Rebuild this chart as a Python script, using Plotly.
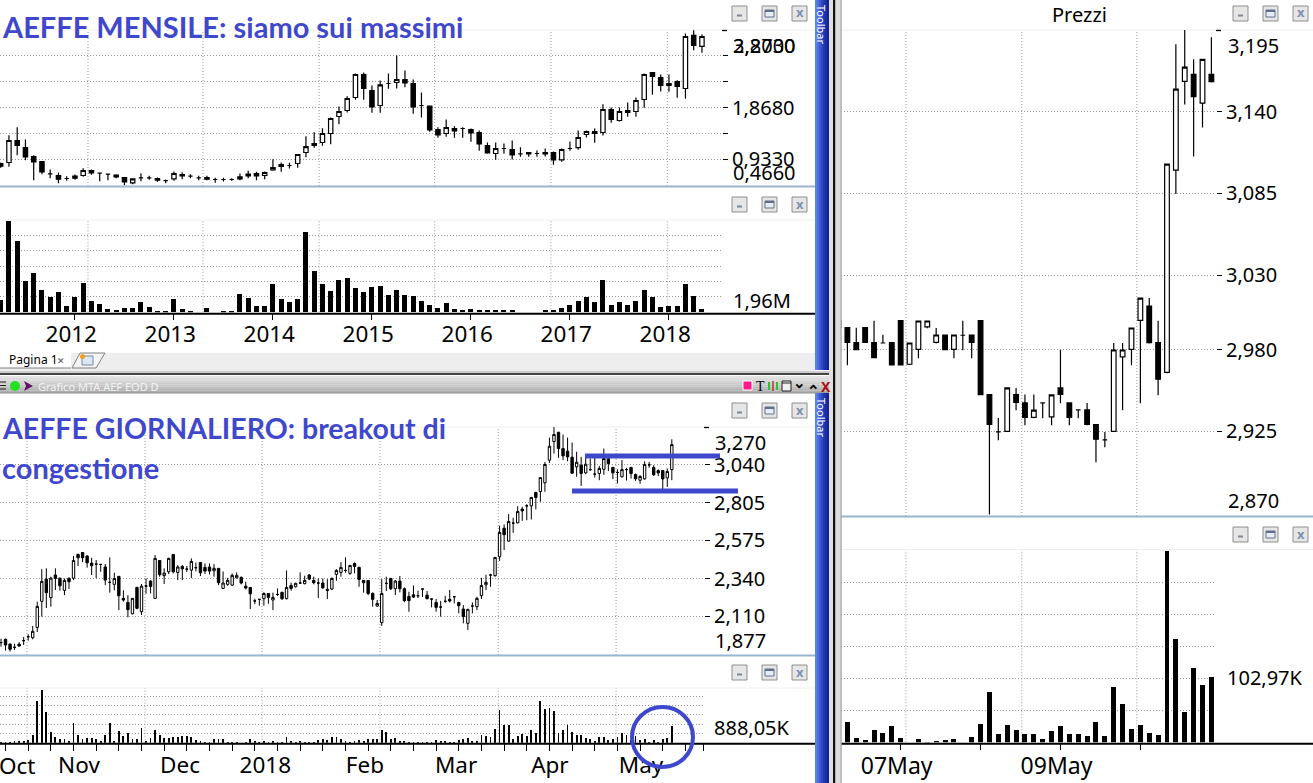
import plotly.graph_objects as go

# ---------- DATA ----------
# Monthly candles: open, high, low, close
monthly_ohlc = [
(.855,.873,.777,.807),(.873,1.368,.795,1.271),(1.271,1.512,1.006,1.181),(1.144,1.289,.915,.976),(.982,1.006,.553,.885),
(.891,.891,.662,.704),(.668,.746,.590,.668),(.638,.692,.499,.572),(.584,.626,.541,.584),(.626,.656,.559,.590),
(.638,.771,.614,.728),(.728,.746,.650,.686),(.680,.680,.535,.680),(.662,.668,.553,.662),(.644,.662,.590,.614),
(.602,.608,.463,.523),(.505,.578,.481,.578),(.596,.680,.535,.596),(.596,.632,.559,.596),(.584,.602,.523,.553),
(.547,.566,.499,.547),(.578,.710,.541,.674),(.656,.698,.572,.632),(.626,.662,.590,.626),(.596,.632,.553,.596),
(.602,.632,.553,.572),(.566,.596,.505,.566),(.566,.596,.529,.566),(.566,.590,.541,.566),(.578,.674,.553,.614),
(.662,.722,.590,.632),(.674,.704,.553,.632),(.638,.710,.572,.692),(.740,.933,.722,.783),(.801,.873,.704,.837),
(.819,.867,.765,.819),(.855,1.018,.777,1.018),(1.054,1.349,.970,1.162),(1.181,1.422,1.138,1.217),(1.235,1.494,1.175,1.398),
(1.398,1.687,1.205,1.669),(1.705,1.886,1.567,1.796),(1.814,2.073,1.778,2.031),(2.049,2.483,2.007,2.465),(2.465,2.501,2.007,2.212),
(2.176,2.266,1.772,1.880),(1.904,2.356,1.772,2.278),(2.302,2.483,2.206,2.302),(2.320,2.809,2.212,2.375),(2.375,2.537,2.236,2.314),
(2.302,2.375,1.753,1.880),(1.904,2.139,1.687,1.904),(1.892,1.904,1.428,1.464),(1.470,1.512,1.319,1.374),(1.398,1.651,1.337,1.506),
(1.488,1.530,1.319,1.446),(1.488,1.512,1.319,1.488),(1.470,1.488,1.247,1.410),(1.416,1.452,1.084,1.211),(1.181,1.235,1.030,1.048),
(1.036,1.235,.921,1.126),(1.126,1.217,1.030,1.126),(1.108,1.271,.927,1.012),(1.030,1.150,.976,1.030),(1.054,1.060,.976,1.030),
(1.036,1.090,.976,1.036),(1.054,1.126,.982,1.030),(1.054,1.072,.831,.921),(.921,1.126,.885,1.108),(1.126,1.253,1.084,1.126),
(1.144,1.452,1.102,1.325),(1.380,1.452,1.325,1.434),(1.434,1.488,1.229,1.398),(1.416,1.928,1.361,1.832),(1.832,1.868,1.591,1.651),
(1.633,1.868,1.615,1.796),(1.814,1.958,1.699,1.778),(1.796,2.049,1.699,1.995),(2.013,2.483,1.862,2.465),(2.501,2.501,2.097,2.429),
(2.411,2.465,2.157,2.266),(2.266,2.465,2.151,2.302),(2.338,2.362,2.043,2.248),(2.212,3.207,2.025,3.152),(3.171,3.267,2.905,2.990),
(2.972,3.189,2.857,3.152)]
monthly_vol = [1.58,11.67,9.12,4.0,5.03,2.85,1.96,2.6,.81,1.96,3.75,1.45,1.07,.43,.3,.55,.55,1.32,.68,.17,.17,1.7,.43,.17,0,.55,0,.17,.17,
2.34,1.83,.81,.81,3.62,1.7,1.32,1.7,10.27,5.28,3.62,2.73,4.13,4.39,3.11,2.6,3.24,3.37,2.22,2.85,2.22,2.09,1.45,.94,.55,1.19,.43,.3,.43,.3,.3,.3,.3,.3,
0,0,0,.3,.3,.55,.94,1.45,1.96,1.32,4.13,.94,1.32,.94,1.45,2.85,1.96,.68,.81,.81,3.62,2.09,.43]
monthly_year_tick = [9,21,33,45,57,69,81]
monthly_year_idx = [8.55,20.55,32.55,44.55,56.55,68.55,80.55]
monthly_year_txt = ["2012","2013","2014","2015","2016","2017","2018"]
monthly_grid_idx = [10.58,24.52,38.6,52.6,66.7,80.8]
monthly_price_ticks = [2.803,2.3355,1.868,1.4005,.933]
monthly_price_text = ["","","1,8680","","0,9330"]
monthly_vol_ticks = [0,1.96,3.92,5.88,7.84,9.8]
monthly_vol_text = ["","","","","",""]

# Daily candles: open, high, low, close
daily_ohlc = [
(1.949,1.973,1.924,1.949),(1.969,1.973,1.900,1.934),(1.940,1.944,1.894,1.908),(1.920,1.942,1.904,1.920),(1.940,1.951,1.924,1.928),
(1.961,1.983,1.934,1.961),(1.985,2.000,1.961,1.985),(1.979,2.051,1.969,2.018),(2.042,2.200,2.014,2.171),(2.202,2.399,2.108,2.324),
(2.338,2.404,2.161,2.255),(2.224,2.353,2.169,2.344),(2.363,2.404,2.271,2.342),(2.344,2.346,2.267,2.297),(2.269,2.342,2.240,2.330),
(2.344,2.346,2.277,2.322),(2.344,2.479,2.332,2.452),(2.489,2.495,2.418,2.469),(2.501,2.501,2.442,2.469),(2.479,2.485,2.408,2.438),
(2.436,2.469,2.363,2.420),(2.430,2.455,2.344,2.430),(2.428,2.430,2.383,2.428),(2.412,2.430,2.301,2.332),(2.318,2.471,2.255,2.318),
(2.306,2.377,2.269,2.342),(2.355,2.357,2.148,2.236),(2.220,2.269,2.200,2.210),(2.195,2.240,2.104,2.151),(2.126,2.220,2.122,2.220),
(2.287,2.291,2.153,2.159),(2.138,2.308,2.118,2.295),(2.295,2.342,2.248,2.295),(2.326,2.332,2.250,2.293),(2.220,2.485,2.216,2.465),
(2.452,2.455,2.353,2.365),(2.359,2.404,2.308,2.375),(2.383,2.469,2.369,2.465),(2.489,2.491,2.373,2.383),(2.379,2.424,2.332,2.412),
(2.416,2.424,2.332,2.401),(2.399,2.418,2.381,2.399),(2.393,2.465,2.344,2.446),(2.408,2.440,2.385,2.408),(2.440,2.440,2.357,2.377),
(2.410,2.434,2.369,2.387),(2.412,2.434,2.367,2.387),(2.389,2.430,2.353,2.404),(2.404,2.404,2.301,2.316),(2.281,2.385,2.277,2.314),
(2.306,2.346,2.297,2.330),(2.301,2.373,2.297,2.361),(2.346,2.379,2.342,2.361),(2.348,2.355,2.306,2.314),(2.295,2.322,2.275,2.283),
(2.287,2.289,2.155,2.248),(2.204,2.218,2.185,2.204),(2.214,2.214,2.175,2.214),(2.218,2.257,2.175,2.250),(2.250,2.250,2.187,2.226),
(2.210,2.255,2.148,2.226),(2.244,2.281,2.234,2.244),(2.257,2.261,2.210,2.218),(2.218,2.391,2.214,2.287),(2.299,2.316,2.267,2.281),
(2.291,2.316,2.287,2.312),(2.314,2.379,2.308,2.314),(2.310,2.359,2.306,2.330),(2.363,2.369,2.332,2.338),(2.330,2.353,2.306,2.316),
(2.314,2.342,2.222,2.314),(2.314,2.342,2.277,2.285),(2.275,2.338,2.216,2.269),(2.277,2.348,2.271,2.342),(2.367,2.399,2.328,2.391),
(2.379,2.442,2.353,2.410),(2.391,2.471,2.377,2.391),(2.373,2.422,2.365,2.422),(2.434,2.440,2.373,2.416),(2.410,2.414,2.291,2.336),
(2.330,2.332,2.255,2.316),(2.330,2.332,2.240,2.250),(2.250,2.257,2.169,2.214),(2.173,2.210,2.169,2.189),(2.071,2.338,2.051,2.250),
(2.312,2.353,2.265,2.312),(2.342,2.346,2.271,2.279),(2.279,2.332,2.240,2.326),(2.326,2.357,2.257,2.279),(2.279,2.287,2.197,2.206),
(2.232,2.261,2.138,2.206),(2.242,2.299,2.222,2.228),(2.236,2.267,2.222,2.236),(2.277,2.281,2.228,2.277),(2.240,2.265,2.214,2.218),
(2.216,2.216,2.165,2.216),(2.195,2.216,2.138,2.165),(2.167,2.204,2.108,2.167),(2.202,2.236,2.193,2.202),(2.214,2.271,2.195,2.204),
(2.230,2.230,2.189,2.230),(2.195,2.199,2.128,2.175),(2.155,2.179,2.067,2.108),(2.067,2.155,2.026,2.153),(2.173,2.195,2.128,2.173),
(2.169,2.230,2.148,2.220),(2.236,2.346,2.216,2.299),(2.303,2.365,2.271,2.318),(2.363,2.371,2.291,2.363),(2.359,2.473,2.353,2.471),
(2.475,2.665,2.450,2.624),(2.650,2.673,2.516,2.610),(2.571,2.736,2.567,2.691),(2.681,2.714,2.622,2.681),(2.683,2.785,2.679,2.752),
(2.767,2.781,2.695,2.756),(2.787,2.797,2.699,2.787),(2.787,2.842,2.703,2.838),(2.869,2.873,2.765,2.838),(2.875,2.960,2.812,2.960),
(2.928,3.056,2.873,3.040),(3.067,3.205,3.050,3.152),(3.181,3.271,3.107,3.224),(3.238,3.240,3.081,3.138),(3.138,3.224,3.067,3.093),
(3.122,3.205,3.060,3.087),(3.085,3.175,2.983,2.987),(3.026,3.118,2.965,3.054),(3.036,3.087,2.909,2.985),(2.989,3.097,2.981,3.042),
(3.009,3.077,3.001,3.009),(2.981,3.087,2.960,2.981),(2.985,3.032,2.944,3.016),(3.011,3.138,2.977,3.077),(3.075,3.087,3.000,3.046),
(3.022,3.026,2.950,2.989),(2.991,3.011,2.924,2.991),(2.965,3.067,2.960,3.009),(3.009,3.020,2.942,3.009),(3.022,3.026,2.954,2.985),
(2.979,2.985,2.940,2.952),(2.944,2.975,2.922,2.967),(2.952,3.060,2.948,3.040),(3.038,3.056,3.020,3.038),(3.022,3.036,2.971,2.977),
(3.003,3.011,2.969,2.989),(3.003,3.005,2.887,2.952),(2.958,3.016,2.903,2.997),(3.009,3.195,2.944,3.162)]
daily_vol = [32,32,16,48,48,79,127,380,1983,2506,1459,507,270,174,174,95,920,380,159,206,206,159,95,365,920,79,539,317,444,190,
190,698,48,222,603,349,222,222,254,285,317,317,285,127,95,32,32,159,159,159,32,32,32,0,16,159,79,32,63,16,63,16,32,254,95,16,63,16,16,32,
127,159,127,254,254,159,95,32,95,127,95,159,159,190,603,507,190,222,95,63,16,32,16,32,16,16,127,63,63,16,16,127,159,206,63,95,365,317,285,634,
1554,841,841,159,317,412,317,603,476,1983,1618,1650,1507,476,603,856,507,380,380,206,190,95,254,254,127,190,285,444,380,127,317,127,159,32,127,32,190,222,793]
daily_month_idx = [3.5,17.2,39.5,58.3,80.3,100.4,121.1,141.2]
daily_month_txt = ["Oct","Nov","Dec","2018","Feb","Mar","Apr","May"]
daily_week_idx = [1,6,11,16,21,26,31,36,41,46,51,56,61,66,71,76,81,86,91,96,101,106,111,116,121,126,131,136,141,146,151,155]
daily_grid_idx = [5.74,31.77,57.6,83.6,109.7,135.7]
daily_price_ticks = [3.04,2.805,2.575,2.34,2.11]
daily_price_text = ["3,040","2,805","2,575","2,340","2,110"]
daily_vol_ticks = [0,444.03,888.05,1332.08,1776.1,2220.1]
daily_vol_text = ["","","","","",""]

# Intraday candles: open, high, low, close
intra_ohlc = [
(2.9994,2.9994,2.9949,2.9949),(2.9947,2.9947,2.9694,2.9848),(2.9846,2.9947,2.9795,2.9799),(2.9947,2.9947,2.9844,2.9848),
(2.9846,2.9994,2.9741,2.9745),(2.9844,2.99,2.9844,2.9844),(2.9846,2.9846,2.9694,2.9696),(2.9994,2.9994,2.9694,2.9696),
(2.9701,2.9844,2.9696,2.9844),(2.9801,2.9992,2.9741,2.9992),(2.9952,2.9992,2.9943,2.9992),(2.9848,2.9945,2.9840,2.9898),
(2.9898,2.9898,2.9795,2.9799),(2.9801,2.9898,2.9741,2.9898),(2.9896,2.9994,2.9795,2.9896),(2.9898,2.9898,2.9741,2.9848),
(2.9994,2.9994,2.9492,2.9497),(2.9497,2.9497,2.8690,2.9297),(2.9246,2.9340,2.9190,2.9246),(2.9250,2.9542,2.9246,2.9542),
(2.9497,2.9542,2.9392,2.9445),(2.9441,2.9497,2.9291,2.9344),(2.9344,2.9497,2.9338,2.9393),(2.9441,2.9441,2.9338,2.9441),
(2.9347,2.9495,2.9291,2.9495),(2.9542,2.9797,2.9439,2.9499),(2.9441,2.9441,2.9291,2.9344),(2.9394,2.9394,2.9338,2.9394),
(2.9394,2.9441,2.9291,2.9297),(2.9295,2.9295,2.9042,2.9197),(2.9192,2.9246,2.9143,2.9192),(2.9250,2.9844,2.9246,2.9797),
(2.9750,2.9844,2.9392,2.9797),(2.9801,2.9945,2.9694,2.9945),(2.9996,3.0146,2.9439,3.0146),(3.0093,3.0146,2.9840,2.9846),
(2.9846,2.9994,2.9492,2.9600),(2.9647,3.1048,2.9640,3.1048),(3.1007,3.1854,3.0846,3.1552),(3.1605,3.195,3.1449,3.1700),
(3.1652,3.1753,3.1099,3.1502),(3.1458,3.1753,3.1294,3.1753),(3.1652,3.1901,3.1596,3.1603)]
intra_vol = [5.4,32.7,7,3.8,19.8,15,26.3,7,0,5.4,.5,1.6,3.8,5.4,0,8.6,29.5,81,13.4,27.9,19.8,13.4,13.4,5.4,18.2,26.3,13.4,13.4,10.2,32.7,10.2,89,61.7,21.5,27.9,15,11.8,307.8,166.3,48.8,119.6,92.2,105.1]
intra_day_tick = [7,16,25,34]
intra_day_idx = [6.55,24.55]
intra_day_txt = ["07May","09May"]
intra_grid_idx = [7.6,20.65,33.6]
intra_price_ticks = [3.14,3.085,3.03,2.98,2.925]
intra_price_text = ["3,140","3,085","3,030","2,980","2,925"]
intra_vol_ticks = [0,51.485,102.97,154.455,205.94,257.425]
intra_vol_text = ["","","102,97K","","",""]

W, H = 1313, 783
FONT = "Noto Sans"
BLUE = "#3f48cc"
SEP = "#9ab5d2"
GRID = "#999999"
DOT = "1px,2px"

def X(p): return p / W
def Y(p): return 1 - p / H

shapes, annos = [], []

def box(x0, y0, x1, y1, fill=None, line=None, lw=1, kind="rect", layer="above"):
    d = dict(type=kind, xref="paper", yref="paper", x0=X(x0), x1=X(x1), y0=Y(y0), y1=Y(y1),
             layer=layer, line=dict(width=lw if line else 0, color=line or "rgba(0,0,0,0)"))
    if fill:
        d["fillcolor"] = fill
    shapes.append(d)

def hline(x0, x1, y, color, lw=1, layer="above"):
    shapes.append(dict(type="line", xref="paper", yref="paper", x0=X(x0), x1=X(x1), y0=Y(y), y1=Y(y),
                       layer=layer, line=dict(color=color, width=lw)))

def vline(x, y0, y1, color, lw=1):
    shapes.append(dict(type="line", xref="paper", yref="paper", x0=X(x), x1=X(x), y0=Y(y0), y1=Y(y1),
                       layer="above", line=dict(color=color, width=lw)))

def text(t, x, y, size=20, color="#000", anchor="left", family=FONT, bold=False, angle=0):
    annos.append(dict(text=f"<b>{t}</b>" if bold else t, xref="paper", yref="paper", x=X(x), y=Y(y),
                      xanchor=anchor, yanchor="middle", showarrow=False, textangle=angle,
                      font=dict(size=size, color=color, family=family)))

fig = go.Figure()
layout = {}

def add_panel(n, px, py, xr, yr, ticks, labels, tickmarks, grid_idx, standoff=0):
    """Create axes number n covering pixel box px=(l,r), py=(t,b)."""
    s = "" if n == 1 else str(n)
    layout["xaxis" + s] = dict(domain=[X(px[0]), X(px[1])], range=xr, anchor="y" + s, showgrid=False,
                               zeroline=False, showticklabels=False, ticks="", fixedrange=True, automargin=False,
                               rangeslider=dict(visible=False))
    layout["yaxis" + s] = dict(domain=[Y(py[1]), Y(py[0])], range=yr, anchor="x" + s, side="right", automargin=False,
                               tickmode="array", tickvals=ticks, ticktext=labels, showgrid=True,
                               gridcolor=GRID, griddash=DOT, gridwidth=1, zeroline=False, fixedrange=True,
                               ticks="outside" if tickmarks else "", ticklen=5, tickwidth=1.3, tickcolor="#000",
                               ticklabelstandoff=standoff,
                               tickfont=dict(size=20, family=FONT, color="#000"))
    for g in grid_idx:
        shapes.append(dict(type="line", xref="x" + s, yref=f"y{s} domain", x0=g, x1=g, y0=0, y1=1, layer="below",
                           line=dict(color=GRID, width=1, dash=DOT)))
    hline(px[0], 815 if px[0] < 800 else W, py[0], "#efefef", 1, "below")
    if tickmarks:
        hline(px[1], px[1] + 5, py[0] + .5, "#000", 1.3)

def add_candles(n, rows, lw):
    s = "" if n == 1 else str(n)
    o, h, l, c = zip(*rows)
    fig.add_trace(go.Candlestick(x=list(range(len(rows))), open=o, high=h, low=l, close=c, xaxis="x" + s, yaxis="y" + s,
                                 increasing=dict(line=dict(color="#000", width=lw), fillcolor="#fff"),
                                 decreasing=dict(line=dict(color="#000", width=lw), fillcolor="#000"),
                                 hoverinfo="skip", showlegend=False))

def add_vol(n, vals, w, idx, txt, tick_idx, size, standoff):
    s = "" if n == 1 else str(n)
    fig.add_trace(go.Bar(x=list(range(len(vals))), y=vals, width=w, marker=dict(color="#000", line=dict(width=0)),
                         xaxis="x" + s, yaxis="y" + s, hoverinfo="skip", showlegend=False))
    layout["xaxis" + s].update(showticklabels=True, tickmode="array", tickvals=idx, ticktext=txt, tickangle=0,
                               ticklabelstandoff=standoff,
                               tickfont=dict(size=size, family=FONT, color="#000"), ticks="", ticklen=0,
                               minor=dict(tickmode="array", tickvals=tick_idx, ticks="outside", ticklen=7,
                                          tickwidth=1, tickcolor="#000", showgrid=False))

# panels
add_panel(1, (0, 722), (30, 186), [-.085, 87.43], [.448, 3.27], monthly_price_ticks, monthly_price_text, True, monthly_grid_idx)
add_panel(2, (0, 722), (220, 312.3), [-.085, 87.43], [0, 11.8], monthly_vol_ticks, monthly_vol_text, False, monthly_grid_idx, 9)
add_panel(3, (0, 704), (427, 655), [-.22, 155.1], [1.873, 3.27], daily_price_ticks, daily_price_text, True, daily_grid_idx)
add_panel(4, (0, 704), (688, 742.7), [-.22, 155.1], [0, 2601], daily_vol_ticks, daily_vol_text, False, daily_grid_idx, 8)
add_panel(5, (841, 1216), (30, 516), [.28, 42.52], [2.868, 3.195], intra_price_ticks, intra_price_text, True, intra_grid_idx)
add_panel(6, (841, 1216), (549.5, 742.3), [.28, 42.52], [0, 310], intra_vol_ticks, intra_vol_text, False, intra_grid_idx, 10)

add_candles(1, monthly_ohlc, 1.2)
add_vol(2, monthly_vol, .6, monthly_year_idx, monthly_year_txt, monthly_year_tick, 22.5, 6)
add_candles(3, daily_ohlc, 1)
add_vol(4, daily_vol, .18, daily_month_idx[1:], daily_month_txt[1:], daily_week_idx, 22.5, 7)
add_candles(5, intra_ohlc, 1.2)
add_vol(6, intra_vol, .56, intra_day_idx, intra_day_txt, intra_day_tick, 23, 8)

# clamped axis labels
text("3,2700", 731, 46); text("2,8030", 731, 46); text("0,4660", 731, 172)
text("3,270", 713, 443); text("1,877", 713, 640)
text("3,195", 1226, 46); text("2,870", 1226, 501)
text("1,96M", 731, 300); text("888,05K", 712, 727)
text(daily_month_txt[0], 17, 765, size=22.5, anchor="center")
text("Prezzi", 1079, 14, size=20, anchor="center")

# separators and baselines
hline(0, 815, 186.5, SEP, 2); hline(0, 815, 655.5, SEP, 2); hline(841, W, 516.5, SEP, 2)
hline(0, 815, 313.7, "#000", 2); hline(0, 815, 743.7, "#000", 2); hline(841, W, 743.7, "#000", 2)

# tab strip
box(0, 353, 815, 371, fill="#eeeeee")
box(0, 353, 71, 368, fill="#ffffff")
hline(0, 71, 368, "#808080", 1)
text("Pagina 1", 6.5, 359.5, size=12)
text("✕", 61, 360, size=9, color="#555", anchor="center")
shapes.append(dict(type="path", xref="paper", yref="paper", layer="above", fillcolor="#f4f4f4", line=dict(color="#808080", width=1),
                   path=f"M {X(72)} {Y(368)} L {X(80)} {Y(353)} L {X(105)} {Y(353)} L {X(96)} {Y(368)} Z"))
box(82, 356, 93, 365, fill="#dbe7f5", line="#7a8aa0")
box(80, 354, 85, 359, fill="#f0a020", kind="circle")

# window frame and title bar
hline(0, 832, 372, "#9a9a9a", 1)
hline(0, 832, 374, "#444444", 2)
greys = ["#e4e4e4", "#dcdcdc", "#d4d4d4", "#cccccc", "#c4c4c4", "#bcbcbc", "#b4b4b4", "#aeaeae"]
for i, g in enumerate(greys):
    box(0, 376 + i * 2.1, 832, 378.2 + i * 2.1, fill=g)
hline(0, 832, 393, "#909090", 1)
for yy in (382, 385.5, 389):
    hline(0, 6, yy, "#222", 1)
box(10, 381, 20, 391, fill="#22e022", kind="circle")
shapes.append(dict(type="path", xref="paper", yref="paper", layer="above", fillcolor="#66116e", line=dict(width=0),
                   path=f"M {X(24)} {Y(381)} L {X(33)} {Y(386)} L {X(24)} {Y(391)} L {X(26)} {Y(386)} Z"))
text("Grafico MTA.AEF EOD D", 36, 386, size=11, color="#f2f2f2")
box(743, 381, 752, 390, fill="#ff1a8c", line="#ffffff")
text("T", 760, 386, size=14, family="Liberation Serif", anchor="center")
vline(769, 382, 390, "#30c030", 2); vline(773, 381, 391, "#c03030", 1.5); vline(777, 382, 390, "#30c030", 2)
box(782, 381, 791, 391, fill="#f0f0f0", line="#222")
hline(782, 791, 383, "#222", 1)
text("⌄", 799, 382, size=15, anchor="center", bold=True)
text("⌃", 813, 390, size=15, anchor="center", bold=True)
text("X", 826, 386, size=14, anchor="center", color="#b01010", bold=True)

# blue toolbars and right-hand frame
blues = ["#5f7fe6", "#4f6fdc", "#3f5ad0", "#3048c4", "#2238b4", "#1a2ca4", "#15239a"]
for y0, y1 in ((0, 370), (393, 783)):
    for i, b in enumerate(blues):
        box(815 + i * 2, y0, 817.2 + i * 2, y1, fill=b)
    text("Toolbar", 822, y0 + 24, size=11, color="#ffffff", anchor="center", angle=90)
box(829, 0, 833, 783, fill="#e0e0e0")
box(833, 0, 835.5, 783, fill="#111111")
box(835.5, 0, 840, 783, fill="#dddddd")
vline(841, 0, 783, "#a8a8a8", 1.5)

# window buttons
def buttons(xs, y):
    for i, x in enumerate(xs):
        box(x, y, x + 15, y + 15, fill="#e6e6e6", line="#8e8e8e")
        if i == 0:
            box(x + 5, y + 8.5, x + 10, y + 10.5, fill="#7c8894")
        elif i == 1:
            box(x + 3, y + 4, x + 12, y + 11, fill="#e8eef6", line="#60708c")
            box(x + 3, y + 4, x + 12, y + 6, fill="#60708c")
        else:
            text("x", x + 7.5, y + 6.5, size=13, color="#7c90b0", anchor="center", bold=True)

left_b = (732, 762, 792)
right_b = (1233, 1263, 1293)
for yy in (6, 197, 403, 665):
    buttons(left_b, yy)
for yy in (6, 527):
    buttons(right_b, yy)

# hand-drawn annotations
hline(585, 720, 456, BLUE, 5)
hline(572, 738, 491, BLUE, 5)
box(632, 707, 693, 767, line=BLUE, lw=4, kind="circle")

# titles
TF = "Lato"
text("AEFFE MENSILE: siamo sui massimi", 0, 27, size=29, color=BLUE, family=TF, bold=True)
text("AEFFE GIORNALIERO: breakout di", 0, 428, size=28.5, color=BLUE, family=TF, bold=True)
text("congestione", 0, 467, size=29, color=BLUE, family=TF, bold=True)

fig.update_layout(width=W, height=H, autosize=False, margin=dict(l=0, r=0, t=0, b=0), paper_bgcolor="#fff",
                  plot_bgcolor="rgba(0,0,0,0)", showlegend=False, boxgap=.25, bargap=0, shapes=shapes, annotations=annos,
                  font=dict(family=FONT), **layout)
fig.write_html("out.html", config={"displayModeBar": False},
               post_script="document.body.style.margin='0';document.body.style.overflow='hidden';")
